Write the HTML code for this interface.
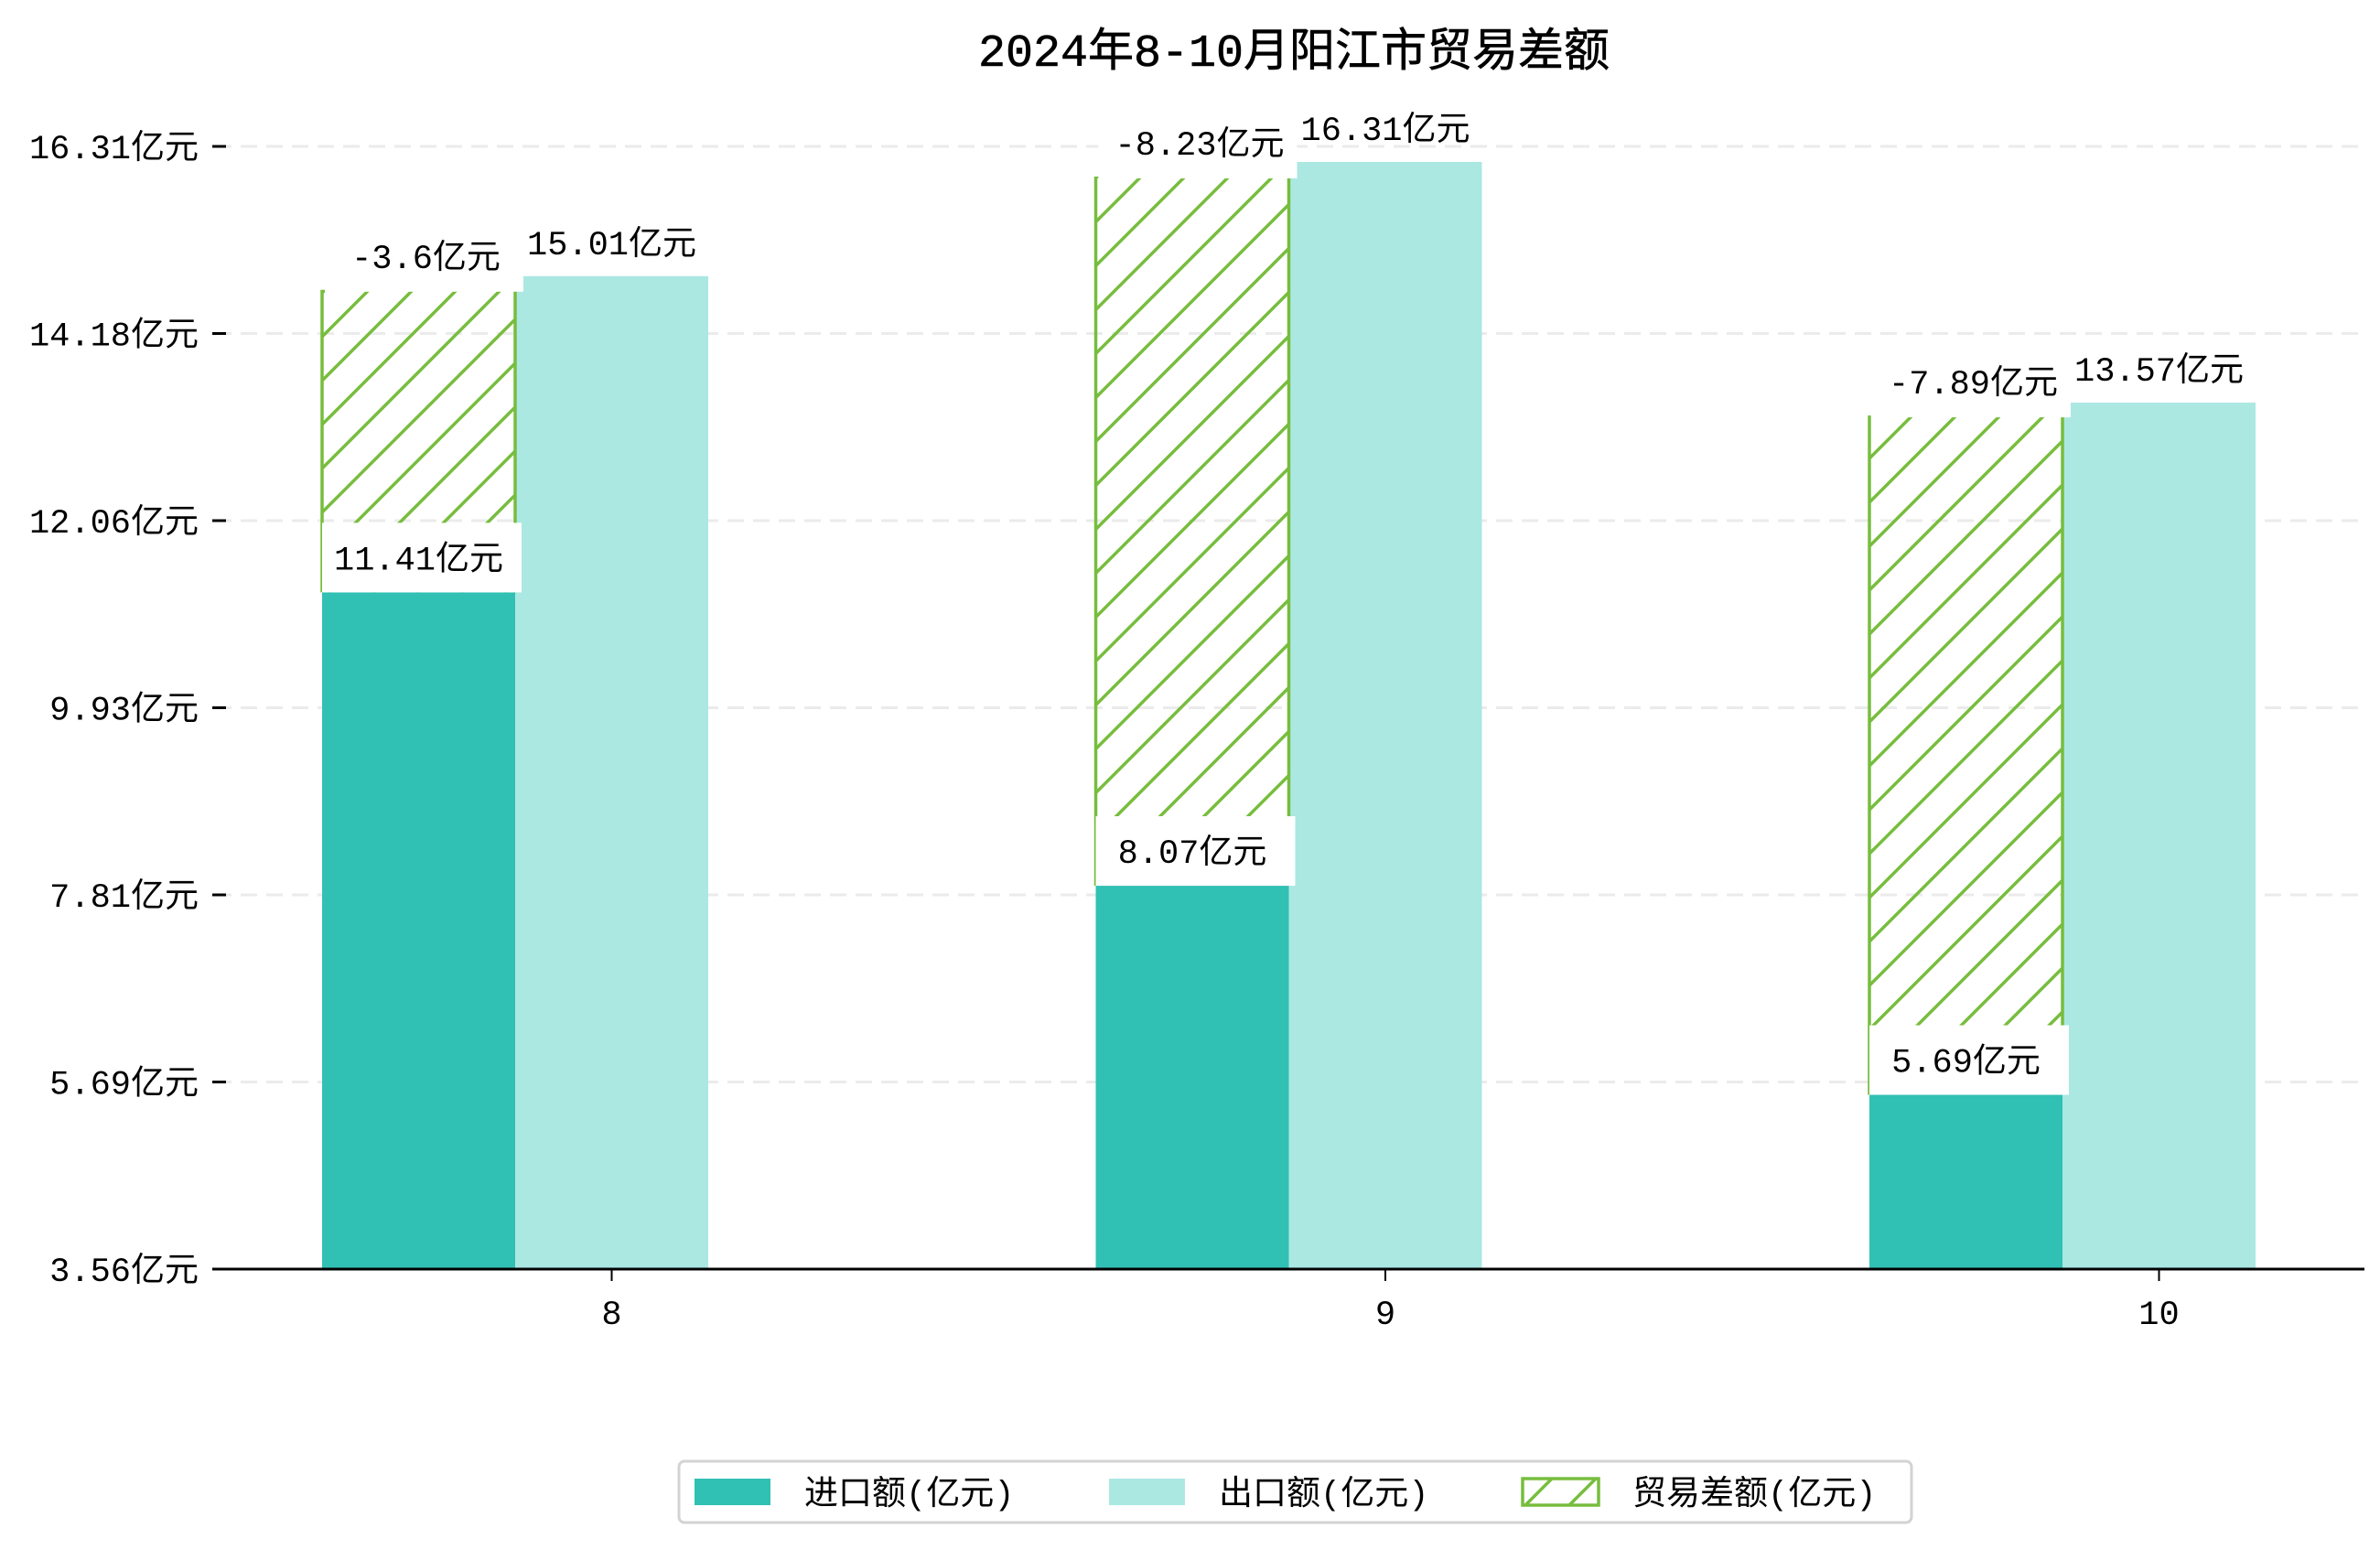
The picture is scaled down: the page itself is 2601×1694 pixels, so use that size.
<!DOCTYPE html>
<html><head><meta charset="utf-8"><style>
html,body{margin:0;padding:0;background:#fff;}
svg text{font-family:"Liberation Mono","Noto Sans CJK SC",monospace;}
</style></head><body>
<svg id="chart" width="2601" height="1689" viewBox="0 0 2601 1689" xmlns="http://www.w3.org/2000/svg">
<defs>
<pattern id="hatch" patternUnits="userSpaceOnUse" width="48" height="48">
<path d="M-12,12 L12,-12 M0,48 L48,0 M36,60 L60,36" stroke="#77bd3e" stroke-width="3.5"/>
</pattern>
</defs>
<text x="1414" y="72" text-anchor="middle" font-size="50" fill="#000" stroke="#000" stroke-width="0.6">2024年8-10月阳江市贸易差额</text>
<g id="grid"></g>
<g id="bars"></g>
<g id="labels"></g>
<line x1="235" y1="1387" x2="2584" y2="1387" stroke="#000" stroke-width="3"/>
<g id="axes"></g>
<g>
<rect x="742" y="1597" width="1347" height="67" rx="6" fill="#fff" stroke="#d3d3d3" stroke-width="3"/>
<rect x="759" y="1616" width="83" height="29" fill="#31c0b4"/>
<text x="879" y="1644" font-size="37">进口额(亿元)</text>
<rect x="1212" y="1616" width="83" height="29" fill="#abe8e2"/>
<text x="1332" y="1644" font-size="37">出口额(亿元)</text>
<rect x="1664" y="1616" width="83" height="29" fill="url(#hatch)" stroke="#77bd3e" stroke-width="3.5"/>
<text x="1784" y="1644" font-size="37">贸易差额(亿元)</text>
</g>
</svg>
<script>
const categories = ["8", "9", "10"];
const importValues = [11.41, 8.07, 5.69];
const exportValues = [15.01, 16.31, 13.57];
const balanceValues = [-3.6, -8.23, -7.89];
const yTickLabels = ["3.56", "5.69", "7.81", "9.93", "12.06", "14.18", "16.31"];

const NS = "http://www.w3.org/2000/svg";
const gGrid = document.getElementById("grid");
const gBars = document.getElementById("bars");
const gLabels = document.getElementById("labels");
const gAxes = document.getElementById("axes");
function yScale(v){ return 177 + (16.31 - v) * 96.0; }
function tickY(i){ return 1387 - i * (1387 - 160) / (yTickLabels.length - 1); }
function xLeft(i){ return 352 + i * 845.5; }
const BW = 211;
function mk(tag, attrs, parent){ const e = document.createElementNS(NS, tag); for (const k in attrs) e.setAttribute(k, attrs[k]); parent.appendChild(e); return e; }

yTickLabels.forEach((t, i) => {
  const y = tickY(i);
  if (i > 0) {
    const gl = mk("line", {x1:235, x2:2584, y1:y, y2:y, stroke:"#ebebeb", "stroke-width":3, "stroke-dasharray":"18,10"}, gGrid);
    
    
  }
  const tk = mk("line", {x1:232, x2:247, y1:y, y2:y, stroke:"#000", "stroke-width":3}, gAxes);
  
  
  const tx = mk("text", {x:217, y:y+13, "text-anchor":"end", "font-size":37}, gAxes);
  tx.textContent = t + "亿元";
  
  
});

categories.forEach((c, i) => {
  const xl = xLeft(i);
  const xc = xl + 1.5 * BW;
  const yi = yScale(importValues[i]);
  const ye = yScale(exportValues[i]);
  const yh = yScale(importValues[i] + Math.abs(balanceValues[i])) + 15;
  const bi = mk("rect", {x:xl, y:yi, width:BW, height:1387-yi, fill:"#31c0b4"}, gBars);
  
  
  const be = mk("rect", {x:xl+BW, y:ye, width:BW, height:1387-ye, fill:"#abe8e2"}, gBars);
  
  
  const bh = mk("rect", {x:xl, y:yh, width:BW, height:Math.max(0, yi-yh), fill:"url(#hatch)"}, gBars);
  
  
  const el = mk("line", {x1:xl, x2:xl, y1:yh, y2:yi, stroke:"#77bd3e", "stroke-width":3.5}, gBars);
  
  
  const er = mk("line", {x1:xl+BW, x2:xl+BW, y1:yh, y2:yi, stroke:"#77bd3e", "stroke-width":3.5}, gBars);
  
  
  const ib = mk("rect", {x:xl, y:yi-76, width:BW+7, height:76, fill:"#fff"}, gLabels);
  
  
  const it = mk("text", {x:xl+BW/2, y:yi-38+13, "text-anchor":"middle", "font-size":37}, gLabels);
  it.textContent = importValues[i].toFixed(2) + "亿元";
  
  
  const hb = mk("rect", {x:xl+3, y:yh-74, width:BW+6, height:76, fill:"#fff"}, gLabels);
  
  
  const ht = mk("text", {x:xl+BW/2+8, y:yh-37+13, "text-anchor":"middle", "font-size":37}, gLabels);
  ht.textContent = String(balanceValues[i]) + "亿元";
  
  
  const et = mk("text", {x:xl+1.5*BW, y:ye-37+13, "text-anchor":"middle", "font-size":37}, gLabels);
  et.textContent = exportValues[i].toFixed(2) + "亿元";
  
  
  const xt = mk("line", {x1:xc, x2:xc, y1:1387, y2:1400, stroke:"#000", "stroke-width":2}, gAxes);
  
  
  const xtl = mk("text", {x:xc, y:1447, "text-anchor":"middle", "font-size":37}, gAxes);
  xtl.textContent = c;
  
  
});
</script>
</body></html>
